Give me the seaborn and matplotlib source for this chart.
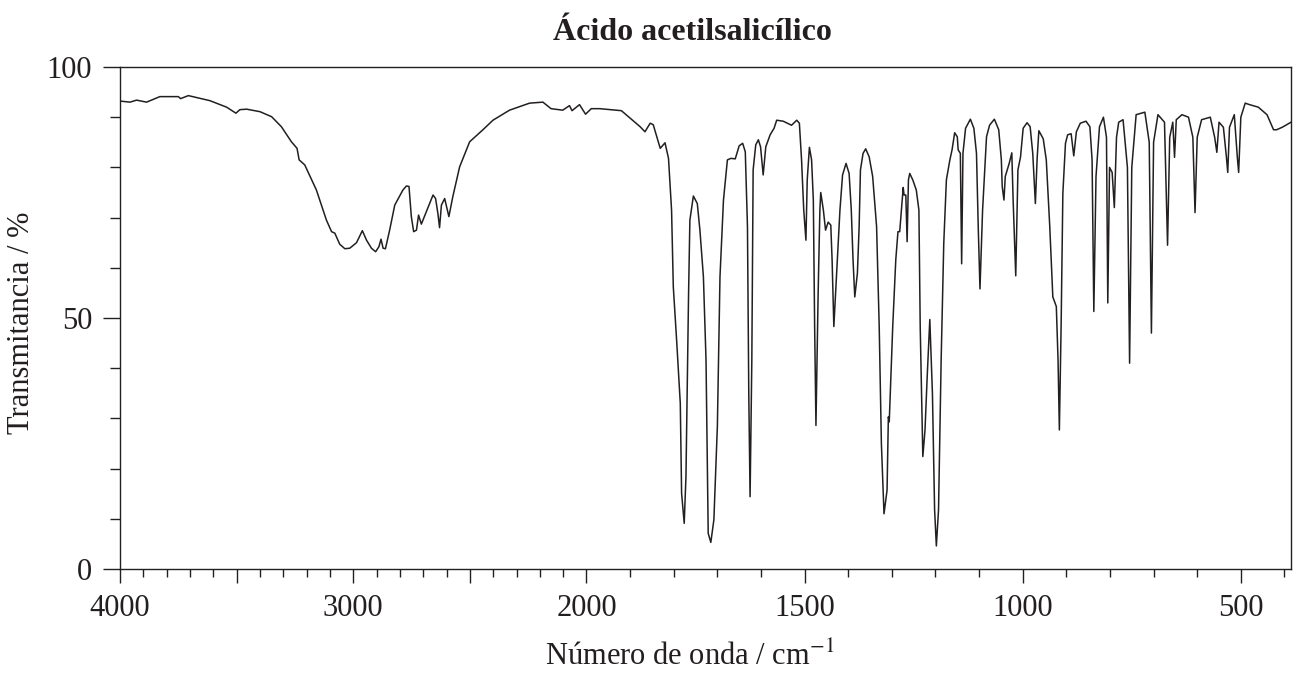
import numpy as np
import pandas as pd
import matplotlib
matplotlib.use("Agg")
import matplotlib.pyplot as plt
import seaborn as sns

# Spectrum (wavenumber in cm-1, transmittance in %)
wavenumber = [
    3997, 3957, 3929, 3886, 3829, 3750, 3740, 3707, 3615, 3543, 3503, 3486, 3457, 3400,
    3350, 3308, 3265, 3241, 3232, 3208, 3158, 3115, 3093, 3079, 3058, 3036, 3015, 2986,
    2961, 2943, 2922, 2904, 2890, 2881, 2872, 2862, 2844, 2822, 2787, 2772, 2761, 2751,
    2741, 2729, 2720, 2708, 2658, 2647, 2637, 2630, 2622, 2608, 2590, 2573, 2544, 2501,
    2444, 2401, 2330, 2244, 2187, 2152, 2102, 2073, 2062, 2030, 2004, 1989, 1970, 1920,
    1877, 1866, 1854, 1847, 1831, 1820, 1812, 1805, 1801, 1793, 1785, 1782, 1776, 1772,
    1766, 1763, 1755, 1746, 1740, 1732, 1726, 1721, 1715, 1708, 1700, 1694, 1686, 1677,
    1669, 1659, 1650, 1642, 1636, 1631, 1628, 1625, 1621, 1618, 1612, 1606, 1601, 1595,
    1589, 1579, 1570, 1564, 1549, 1530, 1518, 1512, 1507, 1502, 1497, 1494, 1489, 1484,
    1480, 1477, 1474, 1469, 1465, 1463, 1457, 1452, 1446, 1440, 1437, 1433, 1427, 1419,
    1413, 1405, 1398, 1393, 1389, 1385, 1379, 1375, 1372, 1366, 1360, 1352, 1344, 1335,
    1329, 1324, 1318, 1311, 1308, 1306, 1298, 1291, 1286, 1282, 1278, 1274, 1272, 1268,
    1265, 1262, 1259, 1252, 1244, 1238, 1235, 1229, 1224, 1219, 1213, 1207, 1202, 1198,
    1193, 1187, 1181, 1175, 1167, 1162, 1156, 1150, 1148, 1143, 1140, 1137, 1131, 1120,
    1112, 1106, 1102, 1098, 1092, 1083, 1076, 1065, 1055, 1049, 1047, 1043, 1040, 1031,
    1025, 1022, 1016, 1011, 1005, 999, 990, 983, 977, 971, 967, 963, 953, 946,
    938, 931, 923, 919, 916, 912, 908, 902, 897, 889, 883, 877, 868, 855,
    846, 841, 837, 832, 824, 815, 808, 805, 801, 795, 790, 785, 780, 770,
    760, 755, 750, 740, 720, 710, 705, 700, 690, 675, 668, 663, 656, 652,
    648, 635, 620, 610, 605, 600, 590, 570, 560, 555, 550, 540, 533, 530,
    526, 515, 508, 505, 500, 490, 480, 460, 440, 425, 418, 405, 385,
]
transmittance = [
    93.2, 93.0, 93.4, 93.0, 94.1, 94.1, 93.7, 94.3, 93.3, 92.0, 90.8, 91.5, 91.6, 91.1,
    90.1, 88.1, 85.1, 83.8, 81.5, 80.5, 75.5, 69.5, 67.2, 66.9, 64.7, 63.8, 63.9, 65.0,
    67.4, 65.5, 63.9, 63.2, 64.2, 65.7, 63.9, 63.8, 67.5, 72.5, 75.5, 76.3, 76.2, 70.2,
    67.2, 67.5, 70.5, 68.7, 74.5, 73.8, 70.8, 68.0, 72.5, 73.8, 70.2, 74.2, 80.1, 85.1,
    87.5, 89.4, 91.4, 92.8, 93.0, 91.7, 91.4, 92.3, 91.3, 92.5, 90.6, 91.7, 91.7, 91.3,
    88.1, 87.1, 88.8, 88.5, 83.8, 84.9, 81.8, 71.5, 56.2, 45.0, 33.0, 15.1, 9.1, 18.4,
    54.9, 69.5, 74.3, 72.8, 67.5, 58.2, 41.6, 7.1, 5.3, 9.8, 28.4, 58.2, 73.5, 81.5,
    81.8, 81.7, 84.3, 84.8, 83.1, 68.2, 35.0, 14.4, 41.6, 79.5, 84.5, 85.5, 84.1, 78.5,
    84.1, 86.5, 87.8, 89.4, 89.2, 88.4, 89.4, 88.8, 81.5, 71.5, 65.5, 77.5, 84.0, 81.5,
    73.5, 48.3, 28.6, 54.9, 71.5, 75.0, 71.5, 67.5, 69.1, 68.5, 61.6, 48.3, 58.2, 71.5,
    78.5, 80.8, 78.8, 71.5, 61.6, 54.2, 58.9, 68.2, 79.5, 82.8, 83.7, 82.1, 78.2, 68.2,
    48.3, 25.0, 11.0, 15.7, 30.3, 29.3, 48.3, 61.6, 67.2, 67.2, 71.5, 76.0, 74.5, 74.5,
    65.2, 77.5, 78.8, 77.5, 75.5, 71.5, 48.3, 22.4, 27.7, 38.3, 49.7, 35.0, 11.8, 4.6,
    11.8, 41.6, 64.9, 77.5, 81.5, 83.5, 86.9, 86.1, 83.5, 82.8, 60.8, 82.8, 87.8, 89.6,
    87.8, 82.8, 68.2, 55.8, 71.5, 86.1, 88.4, 89.6, 87.5, 81.5, 76.2, 73.5, 78.2, 80.8,
    82.9, 73.5, 58.4, 79.5, 82.1, 87.8, 88.9, 88.1, 82.8, 72.8, 81.7, 87.3, 85.7, 81.5,
    68.2, 54.2, 52.3, 41.6, 27.7, 48.3, 74.8, 84.8, 86.5, 86.7, 82.3, 87.1, 88.8, 89.2,
    88.1, 81.5, 51.3, 78.2, 88.1, 90.0, 86.0, 53.0, 80.0, 79.0, 72.0, 86.0, 89.0, 89.5,
    80.0, 41.0, 80.0, 90.5, 91.0, 85.0, 47.0, 85.0, 90.5, 89.0, 64.5, 86.0, 89.0, 82.0,
    89.5, 90.5, 90.0, 86.0, 71.0, 86.0, 89.5, 90.0, 86.0, 83.0, 89.0, 88.0, 82.0, 79.0,
    88.0, 90.5, 82.0, 79.0, 90.0, 92.8, 92.5, 92.0, 90.5, 87.5, 87.5, 88.0, 89.0,
]

x_major = [4000, 3500, 3000, 2500, 2000, 1500, 1000, 500]
x_labels = ["4000", "", "3000", "", "2000", "1500", "1000", "500"]
y_major = [0, 50, 100]

# the spectrum is drawn with about half the scale above 2000 cm-1
r = 0.5347


def fwd(x):
    x = np.asarray(x, dtype=float)
    return np.where(x > 2000, 2000 + (x - 2000) * r, x)


def inv(x):
    x = np.asarray(x, dtype=float)
    return np.where(x > 2000, 2000 + (x - 2000) / r, x)


sns.set_style("ticks")
plt.rcParams["font.family"] = ["Liberation Serif", "DejaVu Serif"]
plt.rcParams["mathtext.fontset"] = "stix"

df = pd.DataFrame({"wn": wavenumber, "T": transmittance})

W, H = 1301, 673
fig = plt.figure(figsize=(W / 100, H / 100), dpi=100)
ax = fig.add_axes([120 / W, (H - 569) / H, (1291 - 120) / W, (569 - 67) / H])

sns.lineplot(data=df, x="wn", y="T", sort=False, estimator=None,
             color="#231f20", lw=1.1, ax=ax)

ax.set_xscale("function", functions=(fwd, inv))
ax.set_xlim(4000, 385)
ax.set_ylim(0, 100)

ax.set_xticks(x_major)
ax.set_xticklabels(x_labels)
ax.set_xticks([v for v in range(400, 4000, 100) if v % 500 != 0], minor=True)
ax.set_yticks(y_major)
ax.set_yticks(range(10, 100, 10), minor=True)

for s in ax.spines.values():
    s.set_linewidth(1.0)
    s.set_color("#231f20")
ax.tick_params(which="major", length=10, width=1.0, color="#231f20",
               labelsize=22, pad=8, labelcolor="#231f20")
ax.tick_params(which="minor", length=6, width=1.0, color="#231f20")
ax.tick_params(axis="y", which="major", length=12)
ax.tick_params(axis="y", which="minor", length=7)

ax.set_xlabel(r"Número de onda / cm$^{-1}$", fontsize=22, color="#231f20")
ax.xaxis.set_label_coords((690 - 120) / 1171, -(642 - 569) / 502)
ax.set_ylabel("Transmitancia / %", fontsize=22, color="#231f20")
ax.yaxis.set_label_coords(-(120 - 36) / 1171, 0.49)

fig.text(692 / W, 1 - 33 / H, "Ácido acetilsalicílico", ha="center", va="center",
         fontsize=23, fontweight="bold", color="#231f20")

fig.savefig("out.png", dpi=100)
